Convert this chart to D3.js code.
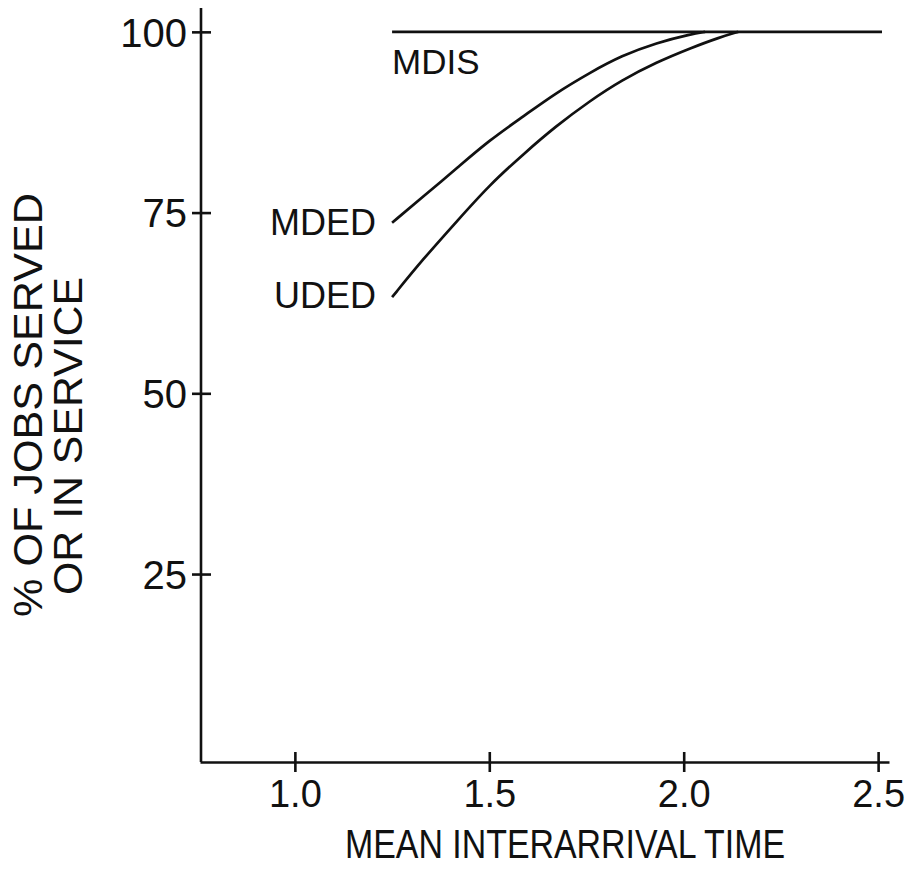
<!DOCTYPE html>
<html>
<head>
<meta charset="utf-8">
<script src="https://cdn.jsdelivr.net/npm/d3@7"></script>
<style>
  body { margin: 0; background: #fff; }
  svg { display: block; font-family: "Liberation Sans", Arial, sans-serif; }
  .axis path, .axis line { stroke: #111; stroke-width: 2.6; }
  .axis text { fill: #111; }
  .curve { fill: none; stroke: #111; stroke-width: 2.7; }
  .lbl { fill: #111; }
</style>
</head>
<body>
<div id="chart"></div>
<script>
// values
const xTicks = [1.0, 1.5, 2.0, 2.5];
const yTicks = [25, 50, 75, 100];

const mdisX = [1.25, 2.51];
const mdisY = [100, 100];

const mdedX = [1.25, 1.33, 1.42, 1.50, 1.59, 1.67, 1.76, 1.84, 1.93, 2.02, 2.055];
const mdedY = [73.6, 77.2, 81.3, 85.0, 88.4, 91.5, 94.4, 96.7, 98.5, 99.7, 100];

const udedX = [1.25, 1.33, 1.42, 1.50, 1.59, 1.67, 1.76, 1.84, 1.93, 2.02, 2.09, 2.14];
const udedY = [63.3, 68.6, 74.0, 78.8, 83.2, 86.9, 90.5, 93.3, 95.8, 97.8, 99.2, 100];

const width = 907, height = 875;

const svg = d3.select("#chart").append("svg")
  .attr("width", width)
  .attr("height", height);

const x = d3.scaleLinear().domain([0.756, 2.528]).range([200, 889]);
const y = d3.scaleLinear().domain([-1.0, 103.3]).range([762, 8]);

// x axis, ticks cross the line
const xAxis = svg.append("g").attr("class", "axis")
  .attr("transform", `translate(0,${y.range()[0]})`)
  .call(d3.axisBottom(x).tickValues(xTicks).tickFormat(d3.format(".1f")).tickSizeOuter(0));
xAxis.selectAll(".tick line").attr("y1", -10).attr("y2", 10);
xAxis.selectAll(".tick text")
  .attr("y", 45).attr("dy", 0)
  .style("font-size", "38px");

// y axis
const yAxis = svg.append("g").attr("class", "axis")
  .attr("transform", `translate(${x.range()[0] + 1},0)`)
  .call(d3.axisLeft(y).tickValues(yTicks).tickSizeOuter(0));
yAxis.selectAll(".tick line").attr("x1", -9).attr("x2", 10);
yAxis.selectAll(".tick text")
  .attr("x", -14).attr("dy", "0.36em")
  .style("font-size", "40px");
yAxis.select(".domain").attr("d", `M0,${y.range()[1]}V${y.range()[0]}`);

const line = d3.line()
  .x(d => x(d[0]))
  .y(d => y(d[1]))
  .curve(d3.curveBasis);

const series = [
  { name: "MDIS", xs: mdisX, ys: mdisY },
  { name: "MDED", xs: mdedX, ys: mdedY },
  { name: "UDED", xs: udedX, ys: udedY }
];

svg.selectAll(".curve").data(series).join("path")
  .attr("class", "curve")
  .attr("d", s => line(s.xs.map((v, i) => [v, s.ys[i]])));

// curve labels
svg.append("text").attr("class", "lbl")
  .attr("x", x(1.25)).attr("y", 74)
  .style("font-size", "35px")
  .text("MDIS");
svg.append("text").attr("class", "lbl")
  .attr("x", x(1.25) - 16).attr("y", 235)
  .attr("text-anchor", "end")
  .style("font-size", "36px")
  .text("MDED");
svg.append("text").attr("class", "lbl")
  .attr("x", x(1.25) - 16).attr("y", 308)
  .attr("text-anchor", "end")
  .style("font-size", "36px")
  .text("UDED");

// axis titles
svg.append("text").attr("class", "lbl")
  .attr("x", 345).attr("y", 858)
  .attr("textLength", 440).attr("lengthAdjust", "spacingAndGlyphs")
  .style("font-size", "40px")
  .text("MEAN  INTERARRIVAL  TIME");

svg.append("text").attr("class", "lbl")
  .attr("transform", "translate(42,405) rotate(-90)")
  .attr("text-anchor", "middle")
  .attr("textLength", 424).attr("lengthAdjust", "spacingAndGlyphs")
  .style("font-size", "40px")
  .text("% OF JOBS SERVED");
svg.append("text").attr("class", "lbl")
  .attr("transform", "translate(82,436) rotate(-90)")
  .attr("text-anchor", "middle")
  .attr("textLength", 318).attr("lengthAdjust", "spacingAndGlyphs")
  .style("font-size", "40px")
  .text("OR IN SERVICE");
</script>
</body>
</html>
